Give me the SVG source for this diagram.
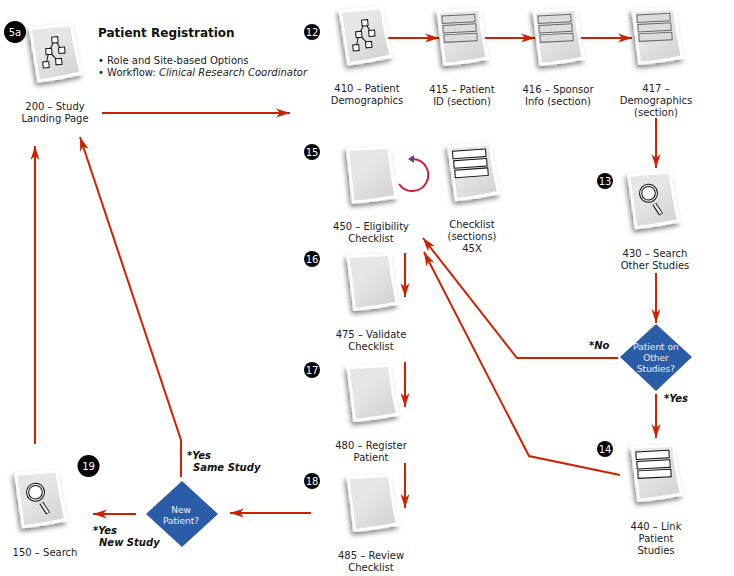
<svg xmlns="http://www.w3.org/2000/svg" width="734" height="576" viewBox="0 0 734 576">
<style>
text{font-family:"DejaVu Sans",sans-serif;font-size:10px;fill:#222}
.c{text-anchor:middle}
.t{font-size:12px;font-weight:bold;fill:#111}
.o{font-weight:bold;font-style:italic;fill:#111}
.b{fill:#000}
.bt{fill:#fff;text-anchor:middle;font-size:10px}
.d{fill:#2b5ca8}
.dt{fill:#eef;text-anchor:middle;font-size:9px}
.a{fill:none;stroke:#cc2200;stroke-width:2;marker-end:url(#ah)}
.n{fill:#fff;stroke:#111;stroke-width:1}
.f{fill:#fff;stroke:#111;stroke-width:1}
.s{fill:#dcdcdc;stroke:#666;stroke-width:1}
</style>
<defs>
<marker id="ah" markerUnits="userSpaceOnUse" markerWidth="16" markerHeight="12" refX="14" refY="6" orient="auto" overflow="visible"><path d="M0,1.500 L14,6 L0,10.500 L4,6 Z" fill="#cc2200"/></marker>
<linearGradient id="g" x1="0.3" y1="0.4" x2="0.7" y2="1"><stop offset="0" stop-color="#e6e6e6"/><stop offset="1" stop-color="#d6d6d6"/></linearGradient>
<filter id="sh" x="-30%" y="-20%" width="160%" height="150%"><feDropShadow dx="-2" dy="3" stdDeviation="2.500" flood-color="#000" flood-opacity=".5"/></filter>
<g id="page">
<path d="M-23,-28 L21,-28 Q22,-4 27,24 Q5,27 -19,28 Z" fill="#fff" filter="url(#sh)"/>
<path d="M-20,-25 L18.500,-25 Q19.500,-3 23.500,21 Q2,24 -16.500,25 Z" fill="url(#g)"/>
</g>
<g id="tree">
<path d="M2,-13 L-5,-2 L-9,11 M2,-13 L8,-2 M-5,-2 L4,9" fill="none" stroke="#111" stroke-width="1"/>
<rect class="n" x="-1" y="-16" width="6" height="6"/><rect class="n" x="-8" y="-5" width="6" height="6"/><rect class="n" x="5" y="-5" width="6" height="6"/><rect class="n" x="-12" y="8" width="6" height="6"/><rect class="n" x="1" y="6" width="6" height="6"/>
</g>
<g id="mag">
<path d="M2,4 L8,15" stroke="#111" stroke-width="4.500"/><path d="M2,4 L8,14.500" stroke="#eee" stroke-width="2.500"/>
<circle cx="-3" cy="-7" r="9" fill="#eee" stroke="#111" stroke-width="1"/><circle cx="-3" cy="-7" r="6.800" fill="#fff" stroke="#111" stroke-width="1"/>
</g>
<g id="rowsG"><rect class="s" x="-18" y="-22" width="33" height="7.500"/><rect class="s" x="-17.500" y="-12.500" width="33" height="7.500"/><rect class="s" x="-17" y="-3" width="33" height="7.500"/></g>
<g id="rowsK"><rect class="f" x="-18" y="-22" width="33" height="7.500"/><rect class="f" x="-17.500" y="-12.500" width="33" height="7.500"/><rect class="f" x="-17" y="-3" width="33" height="7.500"/></g>
</defs>
<rect width="734" height="576" fill="#fff"/>

<g id="header">
<text class="t" x="98" y="37">Patient Registration</text>
<text x="98" y="64">• Role and Site-based Options</text>
<text x="98" y="76">• Workflow: <tspan font-style="italic">Clinical Research Coordinator</tspan></text>
</g>

<g id="connectors">
<path class="a" d="M102,113 H290"/>
<path class="a" d="M387,38 H439"/>
<path class="a" d="M484,38 H535"/>
<path class="a" d="M580,38 H632"/>
<path class="a" d="M656,118 V168"/>
<path class="a" d="M656,273 V323"/>
<path class="a" d="M656,394 V438"/>
<path class="a" d="M618,358 H517 L423,238"/>
<path class="a" d="M620,475 L529,456 L424,252"/>
<path class="a" d="M405,253 V297"/>
<path class="a" d="M405,362 V407"/>
<path class="a" d="M405,463 V508"/>
<path class="a" d="M311,513 H230"/>
<path class="a" d="M136,514 H93"/>
<path class="a" d="M181,477 V440 L80,137"/>
<path class="a" d="M35,444 V146"/>
<path id="loop" d="M399,184 A16,16 0 1 0 412,159" fill="none" stroke="#c8203a" stroke-width="2"/>
<path d="M408,159 L414,155 L414,163 Z" fill="#6a3d9a"/>
</g>

<g id="n200"><use href="#page" transform="translate(54,53) rotate(-5)"/><use href="#tree" transform="translate(54,53) rotate(-5)"/><text class="c" x="55" y="110">200 – Study</text><text class="c" x="55" y="122">Landing Page</text></g>
<g id="n410"><use href="#page" transform="translate(364,36) rotate(-5)"/><use href="#tree" transform="translate(364,36) rotate(-5)"/><text class="c" x="367" y="92">410 – Patient</text><text class="c" x="367" y="104">Demographics</text></g>
<g id="n415"><use href="#page" transform="translate(461,37) rotate(-3)"/><use href="#rowsG" transform="translate(461,37) rotate(-3)"/><text class="c" x="462" y="93">415 – Patient</text><text class="c" x="462" y="105">ID (section)</text></g>
<g id="n416"><use href="#page" transform="translate(557,37) rotate(-3)"/><use href="#rowsG" transform="translate(557,37) rotate(-3)"/><text class="c" x="558" y="93">416 – Sponsor</text><text class="c" x="558" y="105">Info (section)</text></g>
<g id="n417"><use href="#page" transform="translate(656,36) rotate(-3)"/><use href="#rowsG" transform="translate(656,36) rotate(-3)"/><text class="c" x="656" y="92">417 –</text><text class="c" x="656" y="104">Demographics</text><text class="c" x="656" y="116">(section)</text></g>
<g id="n430"><use href="#page" transform="translate(652,200) rotate(-4)"/><use href="#mag" transform="translate(652,200) rotate(-4)"/><text class="c" x="655" y="257">430 – Search</text><text class="c" x="655" y="269">Other Studies</text></g>
<g id="n450"><use href="#page" transform="translate(370,175) rotate(-2)"/><text class="c" x="371" y="230">450 – Eligibility</text><text class="c" x="371" y="242">Checklist</text></g>
<g id="n45x"><use href="#page" transform="translate(472,172) rotate(-4)"/><use href="#rowsK" transform="translate(472,172) rotate(-4)"/><text class="c" x="472" y="228">Checklist</text><text class="c" x="472" y="240">(sections)</text><text class="c" x="472" y="252">45X</text></g>
<g id="n475"><use href="#page" transform="translate(371,282) rotate(-3)"/><text class="c" x="371" y="338">475 – Validate</text><text class="c" x="371" y="350">Checklist</text></g>
<g id="n480"><use href="#page" transform="translate(371,393) rotate(-3)"/><text class="c" x="371" y="449">480 – Register</text><text class="c" x="371" y="461">Patient</text></g>
<g id="n485"><use href="#page" transform="translate(371,503) rotate(-3)"/><text class="c" x="371" y="559">485 – Review</text><text class="c" x="371" y="571">Checklist</text></g>
<g id="n440"><use href="#page" transform="translate(655,473) rotate(-3)"/><use href="#rowsK" transform="translate(655,473) rotate(-3)"/><text class="c" x="656" y="530">440 – Link</text><text class="c" x="656" y="542">Patient</text><text class="c" x="656" y="554">Studies</text></g>
<g id="n150"><use href="#page" transform="translate(39,499) rotate(-4)"/><use href="#mag" transform="translate(39,499) rotate(-4)"/><text class="c" x="45" y="556">150 – Search</text></g>

<g id="d-other"><path class="d" d="M656,324 L692,357 L656,391 L620,357 Z"/><text class="dt" x="656" y="350">Patient on</text><text class="dt" x="656" y="361">Other</text><text class="dt" x="656" y="372">Studies?</text></g>
<g id="d-new"><path class="d" d="M182,481 L218,514 L182,547 L146,514 Z"/><text class="dt" x="181" y="513">New</text><text class="dt" x="181" y="524">Patient?</text></g>

<g id="edge-labels">
<text class="o" x="589" y="349">*No</text>
<text class="o" x="664" y="402">*Yes</text>
<text class="o" x="187" y="459">*Yes</text>
<text class="o" x="193" y="471">Same Study</text>
<text class="o" x="93" y="534">*Yes</text>
<text class="o" x="99" y="546">New Study</text>
</g>

<g id="badges">
<g id="b5a"><circle class="b" cx="15" cy="32" r="11"/><text class="bt" x="15" y="36">5a</text></g>
<g id="b12"><circle class="b" cx="312" cy="32" r="8"/><text class="bt" x="312" y="36">12</text></g>
<g id="b15"><circle class="b" cx="312" cy="152" r="8"/><text class="bt" x="312" y="156">15</text></g>
<g id="b16"><circle class="b" cx="312" cy="259" r="8"/><text class="bt" x="312" y="263">16</text></g>
<g id="b17"><circle class="b" cx="312" cy="370" r="8"/><text class="bt" x="312" y="374">17</text></g>
<g id="b18"><circle class="b" cx="312" cy="481" r="8"/><text class="bt" x="312" y="485">18</text></g>
<g id="b13"><circle class="b" cx="605" cy="181" r="8"/><text class="bt" x="605" y="185">13</text></g>
<g id="b14"><circle class="b" cx="605" cy="449" r="8"/><text class="bt" x="605" y="453">14</text></g>
<g id="b19"><circle class="b" cx="88.500" cy="466" r="11"/><text class="bt" x="88.500" y="470">19</text></g>
</g>
</svg>
